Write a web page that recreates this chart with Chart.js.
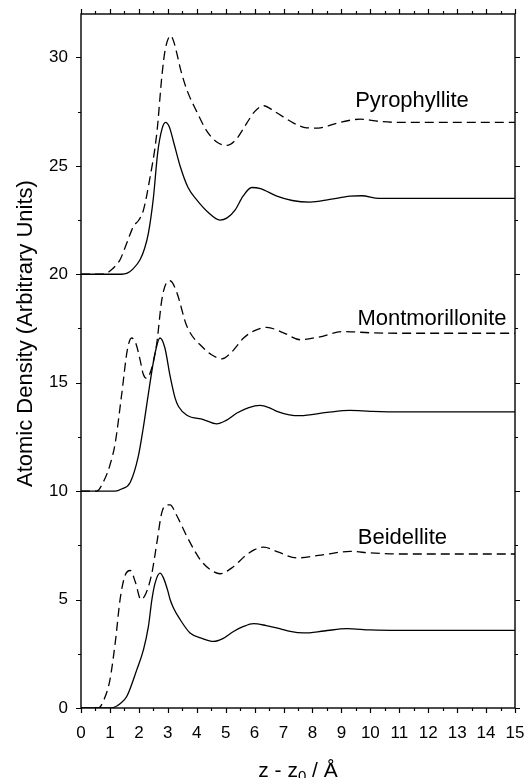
<!DOCTYPE html>
<html>
<head>
<meta charset="utf-8">
<script src="https://cdn.jsdelivr.net/npm/chart.js@4/dist/chart.umd.min.js"></script>
<style>
  html, body { margin: 0; padding: 0; background: #fff; }
  #wrap { width: 525px; height: 778px; }
</style>
</head>
<body>
<div id="wrap"><canvas id="c" width="525" height="778"></canvas></div>
<script>
// ---- Data (z - z0 in Å, atomic density in arbitrary units) ----
const pyroSolidX = [0, 1.0, 1.4, 1.6, 1.8, 2.04, 2.2, 2.33, 2.5, 2.65, 2.8, 2.92, 3.05, 3.2, 3.43, 3.7, 4.0, 4.4, 4.8, 5.05, 5.33, 5.6, 5.9, 6.2, 6.77, 7.3, 7.92, 8.6, 9.3, 9.7, 10.3, 11, 12, 13, 14, 15];
const pyroSolidY = [20, 20, 20.0, 20.05, 20.25, 20.67, 21.2, 21.9, 23.5, 25.6, 26.7, 27.0, 26.8, 26.1, 24.97, 24.0, 23.43, 22.85, 22.5, 22.6, 22.97, 23.6, 24.0, 23.95, 23.6, 23.4, 23.33, 23.45, 23.6, 23.62, 23.5, 23.5, 23.5, 23.5, 23.5, 23.5];

const pyroDashX = [0, 0.8, 1.0, 1.2, 1.35, 1.6, 1.81, 2.0, 2.16, 2.35, 2.62, 2.8, 2.91, 3.1, 3.2, 3.31, 3.45, 3.66, 4.0, 4.35, 4.69, 5.04, 5.35, 5.73, 6.0, 6.31, 6.7, 7.35, 7.8, 8.2, 8.8, 9.65, 10.3, 11, 12, 13, 14, 15];
const pyroDashY = [20, 20, 20.15, 20.4, 20.67, 21.5, 22.2, 22.5, 22.97, 24.2, 26.5, 29.2, 30.35, 31.0, 30.75, 30.2, 29.4, 28.5, 27.5, 26.6, 26.1, 25.94, 26.2, 26.97, 27.5, 27.77, 27.5, 26.97, 26.75, 26.74, 26.95, 27.15, 27.05, 27.0, 27.0, 27.0, 27.0, 27.0];

const montSolidX = [0, 1.18, 1.4, 1.7, 1.98, 2.15, 2.33, 2.55, 2.73, 2.9, 3.08, 3.25, 3.37, 3.66, 4.23, 4.69, 5.0, 5.39, 5.8, 6.19, 6.5, 6.77, 7.2, 7.58, 8.5, 9.3, 10, 11, 12, 13, 14, 15];
const montSolidY = [10, 10, 10.1, 10.4, 11.6, 12.9, 14.5, 16.3, 17.06, 16.6, 15.3, 14.3, 13.9, 13.5, 13.3, 13.1, 13.25, 13.6, 13.85, 13.95, 13.85, 13.68, 13.52, 13.48, 13.63, 13.72, 13.68, 13.65, 13.65, 13.65, 13.65, 13.65];

const montDashX = [0, 0.54, 0.8, 1.0, 1.18, 1.41, 1.6, 1.75, 1.9, 2.04, 2.15, 2.27, 2.45, 2.62, 2.79, 2.95, 3.08, 3.3, 3.66, 4.23, 4.5, 4.87, 5.2, 5.62, 6.0, 6.42, 7.0, 7.58, 8.2, 9.08, 10, 11, 12, 13, 14, 15];
const montDashY = [10, 10, 10.5, 11.2, 12.2, 14.5, 16.5, 17.06, 16.8, 16.06, 15.4, 15.2, 15.7, 16.83, 18.8, 19.6, 19.7, 19.2, 17.6, 16.6, 16.3, 16.1, 16.4, 17.06, 17.4, 17.55, 17.3, 16.98, 17.1, 17.36, 17.3, 17.28, 17.28, 17.28, 17.28, 17.28];

const beidSolidX = [0, 1.0, 1.12, 1.35, 1.58, 1.93, 2.16, 2.33, 2.45, 2.56, 2.73, 2.85, 3.0, 3.08, 3.2, 3.43, 3.77, 4.2, 4.58, 4.9, 5.27, 5.6, 5.96, 6.4, 6.89, 7.23, 7.69, 8.4, 9.19, 10, 11, 12, 13, 14, 15];
const beidSolidY = [0, 0, 0.02, 0.2, 0.53, 1.77, 2.69, 3.76, 5.0, 5.76, 6.22, 6.0, 5.4, 5.0, 4.6, 4.07, 3.46, 3.2, 3.07, 3.2, 3.53, 3.75, 3.89, 3.8, 3.65, 3.53, 3.46, 3.55, 3.66, 3.6, 3.58, 3.58, 3.58, 3.58, 3.58, 3.58];

const beidDashX = [0, 0.6, 0.8, 1.0, 1.2, 1.35, 1.52, 1.7, 1.88, 2.07, 2.25, 2.45, 2.62, 2.79, 2.95, 3.08, 3.3, 3.66, 4.12, 4.45, 4.81, 5.2, 5.73, 6.0, 6.31, 6.8, 7.46, 8.3, 9.3, 10, 11, 12, 13, 14, 15];
const beidDashY = [0, 0, 0.4, 1.3, 3.2, 5.0, 6.1, 6.34, 5.8, 5.0, 5.3, 6.22, 7.6, 9.0, 9.35, 9.37, 8.9, 7.91, 6.84, 6.4, 6.19, 6.45, 7.07, 7.3, 7.42, 7.2, 6.92, 7.05, 7.22, 7.15, 7.1, 7.1, 7.1, 7.1, 7.1, 7.1];

const xTicks = [0, 1, 2, 3, 4, 5, 6, 7, 8, 9, 10, 11, 12, 13, 14, 15];
const yTicks = [0, 5, 10, 15, 20, 25, 30];
const curveNames = ['Pyrophyllite', 'Montmorillonite', 'Beidellite'];
const xTitle = ['z - z', '0', ' / Å'];
const yTitle = 'Atomic Density (Arbitrary Units)';

// ---- Chart ----
const FONT = '"Liberation Sans", Arial, Helvetica, sans-serif';
const pts = (xs, ys) => xs.map((x, i) => ({ x: x, y: ys[i] }));
const solid = (xs, ys) => ({ data: pts(xs, ys), borderColor: '#000', borderWidth: 1.3, pointRadius: 0, fill: false, cubicInterpolationMode: 'monotone' });
const dashed = (xs, ys) => Object.assign(solid(xs, ys), { borderDash: [9, 5] });

// text annotation positions (data coordinates), kept separate from the data series
const labelPos = [
  { text: curveNames[0], x: 11.44, y: 27.70 },
  { text: curveNames[1], x: 12.13, y: 17.68 },
  { text: curveNames[2], x: 11.11, y: 7.58 }
];

const decor = {
  id: 'decor',
  afterDraw(chart) {
    const ctx = chart.ctx, a = chart.chartArea;
    const xs = chart.scales.x, ys = chart.scales.y;
    ctx.save();
    ctx.strokeStyle = '#000';
    ctx.lineWidth = 1.4;
    ctx.strokeRect(a.left, a.top, a.right - a.left, a.bottom - a.top);
    ctx.lineWidth = 1.2;
    ctx.beginPath();
    for (let v = 0; v <= 15.001; v += 0.5) {
      const p = Math.round(xs.getPixelForValue(v)) + 0.5;
      const len = (Math.abs(v - Math.round(v)) < 1e-6) ? 5 : 3;
      ctx.moveTo(p, a.bottom); ctx.lineTo(p, a.bottom + len);
      ctx.moveTo(p, a.top); ctx.lineTo(p, a.top - len);
    }
    for (let v = 0; v <= 32.001; v += 2.5) {
      const p = Math.round(ys.getPixelForValue(v)) + 0.5;
      const len = (Math.abs(v / 5 - Math.round(v / 5)) < 1e-6) ? 5 : 3;
      ctx.moveTo(a.left, p); ctx.lineTo(a.left - len, p);
      ctx.moveTo(a.right, p); ctx.lineTo(a.right + len, p);
    }
    ctx.stroke();
    ctx.fillStyle = '#000';
    ctx.font = '22px ' + FONT;
    ctx.textAlign = 'center';
    ctx.textBaseline = 'alphabetic';
    labelPos.forEach(l => ctx.fillText(l.text, xs.getPixelForValue(l.x), ys.getPixelForValue(l.y)));
    const big = '21px ' + FONT, small = '15px ' + FONT;
    ctx.font = big; const w1 = ctx.measureText(xTitle[0]).width, w3 = ctx.measureText(xTitle[2]).width;
    ctx.font = small; const w2 = ctx.measureText(xTitle[1]).width;
    const cx = (a.left + a.right) / 2, base = 777;
    let x0 = cx - (w1 + w2 + w3) / 2;
    ctx.textAlign = 'left';
    ctx.font = big; ctx.fillText(xTitle[0], x0, base);
    ctx.font = small; ctx.fillText(xTitle[1], x0 + w1, base + 4);
    ctx.font = big; ctx.fillText(xTitle[2], x0 + w1 + w2, base);
    ctx.translate(31.5, 487);
    ctx.rotate(-Math.PI / 2);
    ctx.font = '22px ' + FONT;
    ctx.textAlign = 'left';
    ctx.fillText(yTitle, 0, 0);
    ctx.restore();
  }
};

new Chart(document.getElementById('c'), {
  type: 'line',
  data: {
    datasets: [
      dashed(pyroDashX, pyroDashY), solid(pyroSolidX, pyroSolidY),
      dashed(montDashX, montDashY), solid(montSolidX, montSolidY),
      dashed(beidDashX, beidDashY), solid(beidSolidX, beidSolidY)
    ]
  },
  options: {
    responsive: false,
    animation: false,
    devicePixelRatio: 1,
    layout: { padding: { top: 14, right: 10, left: 0, bottom: 0 } },
    plugins: { legend: { display: false }, tooltip: { enabled: false } },
    scales: {
      x: {
        type: 'linear', min: 0, max: 15,
        afterBuildTicks: s => { s.ticks = xTicks.map(v => ({ value: v })); },
        afterFit: s => { s.height = 70; s.paddingLeft = 0; s.paddingRight = 0; },
        grid: { display: false, drawTicks: false },
        border: { display: false },
        ticks: { color: '#000', font: { size: 17, family: FONT }, padding: 15, maxRotation: 0, autoSkip: false }
      },
      y: {
        type: 'linear', min: 0, max: 32,
        afterBuildTicks: s => { s.ticks = yTicks.map(v => ({ value: v })); },
        afterFit: s => { s.width = 81; s.paddingTop = 0; s.paddingBottom = 0; },
        grid: { display: false, drawTicks: false },
        border: { display: false },
        ticks: { color: '#000', font: { size: 17, family: FONT }, padding: 13, autoSkip: false }
      }
    }
  },
  plugins: [decor]
});
</script>
</body>
</html>
